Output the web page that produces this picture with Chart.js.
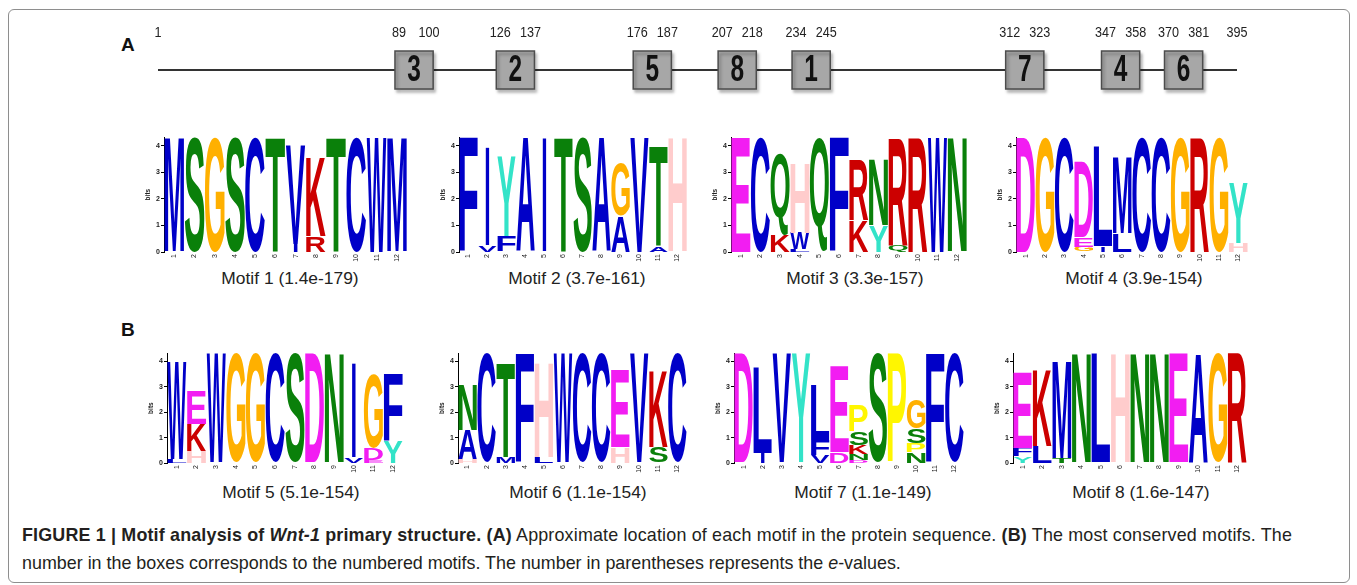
<!DOCTYPE html>
<html>
<head>
<meta charset="utf-8">
<script src="https://cdn.jsdelivr.net/npm/chart.js@4.4.1/dist/chart.umd.min.js"></script>
<style>
html,body{margin:0;padding:0;background:#fff;}
body{width:1357px;height:585px;position:relative;overflow:hidden;font-family:"Liberation Sans",Arial,sans-serif;}
#frame{position:absolute;left:8px;top:9px;width:1342px;height:574px;border:1.5px solid #8e8e8e;border-radius:6px;box-sizing:border-box;}
canvas{position:absolute;}
.lbl{position:absolute;font-size:17.4px;line-height:20px;color:#222;white-space:nowrap;transform:translateX(-50%);}
.panel{position:absolute;font-weight:bold;font-size:19px;line-height:20px;color:#111;}
#cap{position:absolute;left:22px;top:521px;font-size:17.9px;line-height:28px;color:#231f20;white-space:nowrap;}
#cap .l1{letter-spacing:0.17px;}
</style>
</head>
<body>
<div id="frame"></div>
<div class="panel" style="left:121px;top:35px;">A</div>
<div class="panel" style="left:121px;top:320px;">B</div>
<canvas id="mapA" width="1357" height="100" style="left:0;top:0;width:1357px;height:100px;"></canvas>
<div id="logos"></div>
<div id="cap"><span class="l1"><b>FIGURE 1 | Motif analysis of <i>Wnt-1</i> primary structure. (A)</b> Approximate location of each motif in the protein sequence. <b>(B)</b> The most conserved motifs. The</span><br>number in the boxes corresponds to the numbered motifs. The number in parentheses represents the <i>e</i>-values.</div>
<script>
// ---------------- data ----------------
const seqLength = 395;
const siteOrder = [3, 2, 5, 8, 1, 7, 4, 6];
const siteStart = [89, 126, 176, 207, 234, 312, 347, 370];
const siteEnd   = [100, 137, 187, 218, 245, 323, 358, 381];

const motifNames = ["Motif 1","Motif 2","Motif 3","Motif 4","Motif 5","Motif 6","Motif 7","Motif 8"];
const eValues = ["1.4e-179","3.7e-161","3.3e-157","3.9e-154","5.1e-154","1.1e-154","1.1e-149","1.6e-147"];
const positionLabels = ["1","2","3","4","5","6","7","8","9","10","11","12"];
const bitTicks = [0, 1, 2, 3, 4];
const bitsMax = 4.32;

// each position: letters from bottom to top, [letter, bits]
const motif1 = [[["M",4.32]],[["S",4.32]],[["G",4.32]],[["S",4.32]],[["C",4.32]],[["T",4.32]],
  [["I",0.3],["V",3.7]],[["R",0.6],["K",3.0]],[["T",4.32]],[["C",4.32]],[["W",4.32]],[["M",4.32]]];
const motif2 = [[["F",4.32]],[["V",0.25],["I",3.72]],[["F",0.62],["Y",3.0]],[["A",4.32]],[["I",4.32]],[["T",4.32]],
  [["S",4.32]],[["A",4.32]],[["A",1.35],["G",2.0]],[["V",4.32]],[["A",0.22],["T",3.75]],[["H",4.32]]];
const motif3 = [[["E",4.32]],[["C",4.32]],[["K",0.65],["Q",3.05]],[["L",0.1],["W",0.6],["H",2.65]],[["Q",4.32]],[["F",4.32]],
  [["K",1.2],["R",2.25]],[["Y",1.0],["N",2.5]],[["Q",0.25],["R",4.0]],[["R",4.32]],[["W",4.32]],[["N",4.32]]];
const motif4 = [[["D",4.32]],[["G",4.32]],[["C",4.32]],[["G",0.2],["E",0.35],["D",2.85]],[["I",0.22],["L",3.78]],[["L",0.7],["M",2.9]],
  [["C",4.32]],[["C",4.32]],[["G",4.32]],[["R",4.32]],[["G",4.32]],[["H",0.35],["Y",2.25]]];
const motif5 = [[["L",0.15],["W",3.85]],[["H",0.48],["K",1.05],["E",1.3]],[["W",4.32]],[["G",4.32]],[["G",4.32]],[["C",4.32]],
  [["S",4.32]],[["D",4.32]],[["N",4.32]],[["V",0.22],["I",3.75]],[["E",0.12],["D",0.45],["G",2.9]],[["Y",0.85],["F",2.65]]];
const motif6 = [[["H",0.15],["A",1.15],["N",1.8]],[["C",4.32]],[["M",0.25],["T",3.75]],[["F",4.32]],[["L",0.25],["H",3.75]],[["W",4.32]],
  [["C",4.32]],[["C",4.32]],[["H",0.64],["E",3.0]],[["V",4.32]],[["S",0.64],["K",3.0]],[["C",4.32]]];
const motif7 = [[["D",4.32]],[["I",0.4],["L",3.4]],[["V",4.32]],[["Y",4.32]],[["V",0.3],["F",0.6],["L",2.15]],[["D",0.44],["E",3.36]],
  [["D",0.12],["N",0.25],["K",0.33],["S",0.53],["P",1.0]],[["S",4.32]],[["P",4.32]],[["N",0.44],["P",0.33],["S",0.59],["G",1.14]],[["F",4.32]],[["C",4.32]]];
const motif8 = [[["Y",0.26],["F",0.34],["E",2.95]],[["L",0.65],["K",3.0]],[["T",0.2],["M",3.85]],[["N",4.32]],[["L",4.32]],[["H",4.32]],
  [["N",4.32]],[["N",4.32]],[["E",4.32]],[["A",4.32]],[["G",4.32]],[["R",4.32]]];

// ---------------- styles / layout ----------------
const letterColors = {A:'#0000C8',C:'#0000C8',F:'#0000C8',I:'#0000C8',L:'#0000C8',M:'#0000C8',V:'#0000C8',W:'#0000C8',
  N:'#0A800A',Q:'#0A800A',S:'#0A800A',T:'#0A800A',D:'#F21DF2',E:'#F21DF2',K:'#CC0000',R:'#CC0000',
  H:'#FFCCCC',G:'#FFB000',P:'#FFF600',Y:'#33E3C8'};
const motifs = [motif1, motif2, motif3, motif4, motif5, motif6, motif7, motif8];
const logoBoxes = [
  {left:164, top:135.5, w:243, h:115.5, lx:290, ly:268},
  {left:459, top:135.5, w:228, h:115.5, lx:577, ly:268},
  {left:731, top:135.5, w:236, h:115.5, lx:855, ly:268},
  {left:1016, top:135.5, w:232, h:115.5, lx:1134, ly:268},
  {left:167, top:351.5, w:236, h:110.5, lx:291, ly:482},
  {left:458, top:351.5, w:229, h:110.5, lx:578, ly:482},
  {left:734, top:351.5, w:230, h:110.5, lx:863, ly:482},
  {left:1013, top:351.5, w:234, h:110.5, lx:1141, ly:482}
];
const AXW = 22, PADT = 4, XH = 14, PADR = 2;

function drawLetter(ctx, ch, left, top, w, h, color){
  ctx.save();
  ctx.font = 'bold 100px "Liberation Sans", Arial, sans-serif';
  const m = ctx.measureText(ch);
  const gw = m.actualBoundingBoxLeft + m.actualBoundingBoxRight;
  const gh = m.actualBoundingBoxAscent + m.actualBoundingBoxDescent;
  let lw = w, lx = left;
  if (ch === 'I') { lw = w * 0.2; lx = left + (w - lw) / 2; }
  ctx.translate(lx, top);
  ctx.scale(lw / gw, h / gh);
  ctx.fillStyle = color;
  ctx.textAlign = 'left';
  ctx.textBaseline = 'alphabetic';
  ctx.fillText(ch, m.actualBoundingBoxLeft, m.actualBoundingBoxAscent);
  ctx.restore();
}

const letterPlugin = {
  id: 'letters',
  afterDatasetsDraw(chart){
    const ctx = chart.ctx;
    chart.data.datasets.forEach((ds, di) => {
      const meta = chart.getDatasetMeta(di);
      meta.data.forEach((bar, i) => {
        const ch = ds.letters[i];
        if (!ch) return;
        const p = bar.getProps(['x','y','base','width'], true);
        const h = p.base - p.y;
        if (h < 0.5) return;
        drawLetter(ctx, ch, p.x - p.width / 2, p.y, p.width, h, letterColors[ch]);
      });
    });
  }
};

const logosDiv = document.getElementById('logos');
motifs.forEach((stacks, mi) => {
  const b = logoBoxes[mi];
  const cw = Math.round(AXW + b.w + PADR), ch = Math.round(PADT + b.h + XH);
  const cv = document.createElement('canvas');
  cv.width = cw; cv.height = ch;
  cv.style.left = (b.left - AXW) + 'px';
  cv.style.top = (b.top - PADT) + 'px';
  cv.style.width = cw + 'px'; cv.style.height = ch + 'px';
  logosDiv.appendChild(cv);
  const lab = document.createElement('div');
  lab.className = 'lbl';
  lab.style.left = b.lx + 'px'; lab.style.top = b.ly + 'px';
  lab.textContent = motifNames[mi] + ' (' + eValues[mi] + ')';
  logosDiv.appendChild(lab);

  const depth = Math.max(...stacks.map(s => s.length));
  const datasets = [];
  for (let k = 0; k < depth; k++) {
    datasets.push({
      data: stacks.map(s => s[k] ? s[k][1] : 0),
      letters: stacks.map(s => s[k] ? s[k][0] : null),
      backgroundColor: 'rgba(0,0,0,0)', borderWidth: 0,
      categoryPercentage: 1, barPercentage: 0.97
    });
  }
  new Chart(cv, {
    type: 'bar',
    data: { labels: positionLabels, datasets },
    options: {
      responsive: false, animation: false, events: [],
      layout: { autoPadding: false, padding: { top: PADT, right: PADR, left: 0, bottom: 0 } },
      plugins: { legend: { display: false }, tooltip: { enabled: false } },
      scales: {
        x: {
          stacked: true,
          grid: { display: false, drawTicks: false },
          border: { display: false },
          ticks: { font: { size: 7, family: '"Liberation Sans", Arial' }, color: '#222', maxRotation: 90, minRotation: 90, padding: 2, autoSkip: false },
          afterFit: s => { s.height = XH; }
        },
        y: {
          stacked: true, min: 0, max: bitsMax,
          afterBuildTicks: s => { s.ticks = bitTicks.map(v => ({ value: v })); },
          grid: { drawOnChartArea: false, drawTicks: true, tickLength: 3, color: '#000' },
          border: { display: true, color: '#000', width: 1 },
          ticks: { font: { size: 7, weight: 'bold', family: '"Liberation Sans", Arial' }, color: '#222', padding: 1 },
          title: { display: true, text: 'bits', font: { size: 6.5, weight: 'bold', family: '"Liberation Sans", Arial' }, color: '#222', padding: { top: 2, bottom: 0 } },
          afterFit: s => { s.width = AXW; }
        }
      }
    },
    plugins: [letterPlugin]
  });
});

// ---------------- panel A map ----------------
const mapPlugin = {
  id: 'mapDeco',
  beforeDatasetDraw(chart, args){
    if (args.index === 1) {
      const c = chart.ctx; c.save();
      c.shadowColor = 'rgba(0,0,0,0.3)'; c.shadowOffsetX = 2; c.shadowOffsetY = 3; c.shadowBlur = 3;
    }
  },
  afterDatasetDraw(chart, args){
    if (args.index === 1) chart.ctx.restore();
  },
  afterDraw(chart){
    const c = chart.ctx, xs = chart.scales.x;
    const pts = chart.getDatasetMeta(1).data;
    c.save();
    c.fillStyle = '#111';
    c.textAlign = 'center'; c.textBaseline = 'middle';
    pts.forEach((p, i) => {
      c.save();
      c.translate(p.x, p.y + 1);
      c.scale(0.68, 1);
      c.font = 'bold 36px "Liberation Sans", Arial, sans-serif';
      c.fillText(String(siteOrder[i]), 0, 0);
      c.restore();
    });
    c.font = '14px "Liberation Sans", Arial, sans-serif';
    c.fillStyle = '#222';
    const labelVals = [1].concat(...siteStart.map((s, i) => [s, siteEnd[i]]), [seqLength]);
    labelVals.forEach(v => {
      c.save();
      c.translate(xs.getPixelForValue(v), 33);
      c.scale(0.9, 1);
      c.fillText(String(v), 0, 0);
      c.restore();
    });
    c.restore();
  }
};

new Chart(document.getElementById('mapA'), {
  type: 'scatter',
  data: { datasets: [
    { type: 'line', data: [{x: 1, y: 0}, {x: seqLength, y: 0}], borderColor: '#333', borderWidth: 2, pointRadius: 0, order: 2, clip: false },
    { data: siteStart.map((s, i) => ({ x: (s + siteEnd[i]) / 2, y: 0 })), pointStyle: 'rect', pointRadius: 27, pointHoverRadius: 27,
      backgroundColor: '#a7a7a7', borderColor: '#4d4d4d', borderWidth: 1.5, order: 1, clip: false }
  ]},
  options: {
    responsive: false, animation: false, events: [],
    layout: { autoPadding: false, padding: { left: 158, right: 120, top: 50, bottom: 10 } },
    scales: { x: { type: 'linear', min: 1, max: seqLength, display: false }, y: { min: -1, max: 1, display: false } },
    plugins: { legend: { display: false }, tooltip: { enabled: false } }
  },
  plugins: [mapPlugin]
});
</script>
</body>
</html>
